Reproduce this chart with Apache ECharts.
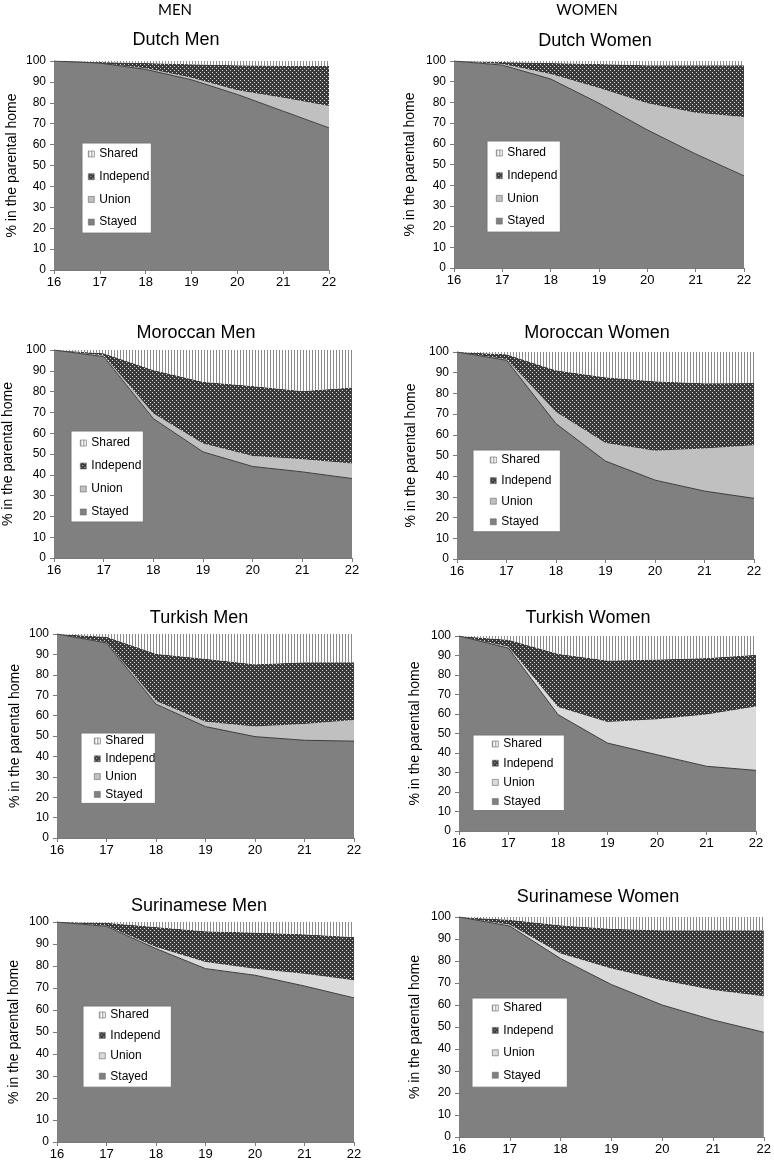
<!DOCTYPE html>
<html>
<head>
<meta charset="utf-8">
<script src="https://cdn.jsdelivr.net/npm/echarts@6/dist/echarts.min.js"></script>
<style>
html,body{margin:0;padding:0;background:#fff;}
#chart{width:774px;height:1166px;}
</style>
</head>
<body>
<div id="chart"></div>
<script>
// ---- data ----
const ages = ['16', '17', '18', '19', '20', '21', '22'];
const seriesNames = ['Stayed', 'Union', 'Independ', 'Shared'];
const legendOrder = ['Shared', 'Independ', 'Union', 'Stayed'];
const columnHeads = ['MEN', 'WOMEN'];
const panelTitles = ['Dutch Men', 'Dutch Women', 'Moroccan Men', 'Moroccan Women',
                     'Turkish Men', 'Turkish Women', 'Surinamese Men', 'Surinamese Women'];
const yAxisName = '% in the parental home';

// layer values (stacked): Stayed, Union, Independ, Shared
const dutchMenStayed   = [100, 99, 96, 91, 84, 76, 68];
const dutchMenUnion    = [0, 0, 0.5, 1, 2, 6.4, 10.5];
const dutchMenIndep    = [0, 0.5, 2.5, 6.5, 12, 15.3, 19.1];
const dutchMenShared   = [0, 0.5, 1, 1.5, 2, 2.3, 2.4];

const dutchWomenStayed = [100, 98, 91.3, 79.6, 66.7, 55.1, 44.5];
const dutchWomenUnion  = [0, 0.5, 2.4, 7.4, 12.9, 19.9, 28.5];
const dutchWomenIndep  = [0, 1, 5.3, 11.5, 18.4, 23, 24.9];
const dutchWomenShared = [0, 0.5, 1, 1.5, 2, 2, 2.1];

const morMenStayed     = [100, 96.8, 67, 51, 44, 41.4, 38.2];
const morMenUnion      = [0, 0.5, 2.5, 4, 5, 6.1, 7.2];
const morMenIndep      = [0, 1.1, 20.9, 29.7, 33.7, 32.8, 36.6];
const morMenShared     = [0, 1.6, 9.6, 15.3, 17.3, 19.7, 18];

const morWomenStayed   = [100, 96, 65.4, 47.3, 38.1, 32.8, 29.3];
const morWomenUnion    = [0, 0.5, 5.6, 8.7, 14.2, 20.6, 25.7];
const morWomenIndep    = [0, 2.4, 20.2, 31.8, 33.6, 31.5, 30];
const morWomenShared   = [0, 1.1, 8.8, 12.2, 14.1, 15.1, 15];

const turMenStayed     = [100, 95.6, 65.6, 54.6, 49.7, 47.9, 47.5];
const turMenUnion      = [0, 0.4, 1.6, 2.4, 4.9, 8, 10.4];
const turMenIndep      = [0, 2.7, 23.1, 30.9, 30.6, 30.3, 28.3];
const turMenShared     = [0, 1.3, 9.7, 12.1, 14.8, 13.8, 13.8];

const turWomenStayed   = [100, 93.8, 59.7, 45.1, 39.1, 33.2, 31.1];
const turWomenUnion    = [0, 0.7, 3.9, 10.8, 18.2, 26.5, 32.8];
const turWomenIndep    = [0, 3.6, 27.3, 31.6, 30.7, 29, 26.5];
const turWomenShared   = [0, 1.9, 9.1, 12.5, 12, 11.3, 9.6];

const surMenStayed     = [100, 98, 87.9, 78.8, 75.8, 70.9, 65.5];
const surMenUnion      = [0, 0.3, 0.7, 3, 3, 5.6, 8];
const surMenIndep      = [0, 1.4, 9.1, 14, 16.4, 17.9, 19.7];
const surMenShared     = [0, 0.3, 2.3, 4.2, 4.8, 5.6, 6.8];

const surWomenStayed   = [100, 95.9, 81.1, 69.3, 60, 53.2, 47.6];
const surWomenUnion    = [0, 0.6, 2.3, 7.3, 11.3, 13.6, 16.4];
const surWomenIndep    = [0, 2.3, 12.8, 18.1, 22.7, 27.2, 30];
const surWomenShared   = [0, 1.2, 3.8, 5.3, 6, 6, 6];

const panelData = [
  [dutchMenStayed, dutchMenUnion, dutchMenIndep, dutchMenShared],
  [dutchWomenStayed, dutchWomenUnion, dutchWomenIndep, dutchWomenShared],
  [morMenStayed, morMenUnion, morMenIndep, morMenShared],
  [morWomenStayed, morWomenUnion, morWomenIndep, morWomenShared],
  [turMenStayed, turMenUnion, turMenIndep, turMenShared],
  [turWomenStayed, turWomenUnion, turWomenIndep, turWomenShared],
  [surMenStayed, surMenUnion, surMenIndep, surMenShared],
  [surWomenStayed, surWomenUnion, surWomenIndep, surWomenShared]
];

// ---- layout (positions / styles) ----
// grid: [left, top, width, height]; title: [cx, cy]; legend: [left, top, padT, padR, padB, padL, gap]; nameGap; union colour
const layout = [
  {grid:[54,61,275,209],  title:[176,41],  legend:[82,143,4,2,4,6,8.7],   nameGap:36, union:'#c0c0c0'},
  {grid:[454,61,290,207], title:[595,42],  legend:[487,141,5,3,4,9,8.7],  nameGap:38, union:'#c0c0c0'},
  {grid:[53,350,299,208], title:[196,334], legend:[71,431,5,2,3,9,9],     nameGap:40, union:'#c0c0c0'},
  {grid:[457,352,297,207],title:[597,334], legend:[473,450,3,9,3,17,6.6], nameGap:40, union:'#c0c0c0'},
  {grid:[57,634,297,204], title:[199,619], legend:[81,733,1,0,2,13,3.8],  nameGap:36, union:'#c0c0c0'},
  {grid:[459,636,297,195],title:[588,619], legend:[473,735,2,11,2,19,5.2],nameGap:38, union:'#dadada'},
  {grid:[57,922,297,220], title:[199,907], legend:[83,1006,2,11,4,16,6.4],nameGap:37, union:'#dadada'},
  {grid:[459,917,307,220],title:[598,898], legend:[472,998,3,14,5,20,8.4],nameGap:38, union:'#dadada'}
];

const FONT = 'Liberation Sans, Arial, sans-serif';

function makeShared() {
  const c = document.createElement('canvas');
  c.width = 3; c.height = 3;
  const g = c.getContext('2d');
  g.fillStyle = '#ffffff'; g.fillRect(0, 0, 3, 3);
  g.fillStyle = '#8a8a8a'; g.fillRect(0, 0, 1, 3);
  return c;
}
function makeIndep() {
  const c = document.createElement('canvas');
  c.width = 4; c.height = 4;
  const g = c.getContext('2d');
  g.fillStyle = '#3a3a3a'; g.fillRect(0, 0, 4, 4);
  g.fillStyle = '#d8d8d8';
  g.fillRect(0, 0, 1, 1);
  g.fillRect(2, 2, 1, 1);
  return c;
}
const sharedPat = {image: makeShared(), repeat: 'repeat'};
const indepPat = {image: makeIndep(), repeat: 'repeat'};
const STAYED = '#808080';

const grids = [], xAxes = [], yAxes = [], series = [], legends = [], titles = [];

titles.push({text: columnHeads[0], left: 175, top: 3, textAlign: 'center', padding: 0,
  textStyle: {fontFamily: 'Lato, sans-serif', fontSize: 15, fontWeight: 'normal', color: '#000'}});
titles.push({text: columnHeads[1], left: 587, top: 3, textAlign: 'center', padding: 0,
  textStyle: {fontFamily: 'Lato, sans-serif', fontSize: 15, fontWeight: 'normal', color: '#000'}});

panelData.forEach((layers, i) => {
  const L = layout[i];
  grids.push({left: L.grid[0], top: L.grid[1], width: L.grid[2], height: L.grid[3], containLabel: false});
  titles.push({text: panelTitles[i], left: L.title[0], top: L.title[1] - 10, textAlign: 'center', padding: 0,
    textStyle: {fontFamily: FONT, fontSize: 18, fontWeight: 'normal', color: '#000'}});
  xAxes.push({
    type: 'category', gridIndex: i, data: ages, boundaryGap: false,
    splitLine: {show: false},
    axisLine: {show: true, onZero: false, lineStyle: {color: '#7a7a7a', width: 1}},
    axisTick: {show: true, length: 4, alignWithLabel: true, lineStyle: {color: '#7a7a7a'}},
    axisLabel: {fontFamily: FONT, fontSize: 13, color: '#000', margin: 6, interval: 0}
  });
  yAxes.push({
    type: 'value', gridIndex: i, min: 0, max: 100, interval: 10,
    name: yAxisName, nameLocation: 'middle', nameGap: L.nameGap - 1,
    nameTextStyle: {fontFamily: FONT, fontSize: 14, color: '#000'},
    splitLine: {show: false},
    axisLine: {show: true, lineStyle: {color: '#7a7a7a', width: 1}},
    axisTick: {show: true, length: 4, lineStyle: {color: '#7a7a7a'}},
    axisLabel: {fontFamily: FONT, fontSize: 12, color: '#000', margin: 8}
  });
  const fills = [STAYED, L.union, indepPat, sharedPat];
  const solid = [STAYED, L.union, '#3a3a3a', '#d0d0d0'];
  layers.forEach((vals, k) => {
    series.push({
      name: seriesNames[k], type: 'line', xAxisIndex: i, yAxisIndex: i,
      stack: 'p' + i, symbol: 'none', smooth: false, silent: true,
      color: solid[k],
      lineStyle: k === 0 ? {width: 1, color: '#3c3c3c'} : {width: 0, opacity: 0},
      areaStyle: {color: fills[k], opacity: 1},
      data: vals
    });
  });
  const lg = L.legend;
  legends.push({
    orient: 'vertical', left: lg[0], top: lg[1], z: 20,
    padding: [lg[2], lg[3], lg[4], lg[5]], itemGap: lg[6],
    itemWidth: 6, itemHeight: 6, icon: 'rect',
    backgroundColor: '#fff', borderColor: '#777', borderWidth: 1,
    selectedMode: false,
    textStyle: {fontFamily: FONT, fontSize: 12, color: '#000', lineHeight: 14},
    data: legendOrder.map(n => {
      const k = seriesNames.indexOf(n);
      return {name: n, icon: 'rect',
        itemStyle: {color: fills[k], borderColor: '#666', borderWidth: 0.6, opacity: 1}};
    })
  });
});

const chart = echarts.init(document.getElementById('chart'), null, {renderer: 'canvas'});
chart.setOption({
  animation: false,
  backgroundColor: '#fff',
  title: titles,
  grid: grids,
  xAxis: xAxes,
  yAxis: yAxes,
  legend: legends,
  series: series
});
</script>
</body>
</html>
